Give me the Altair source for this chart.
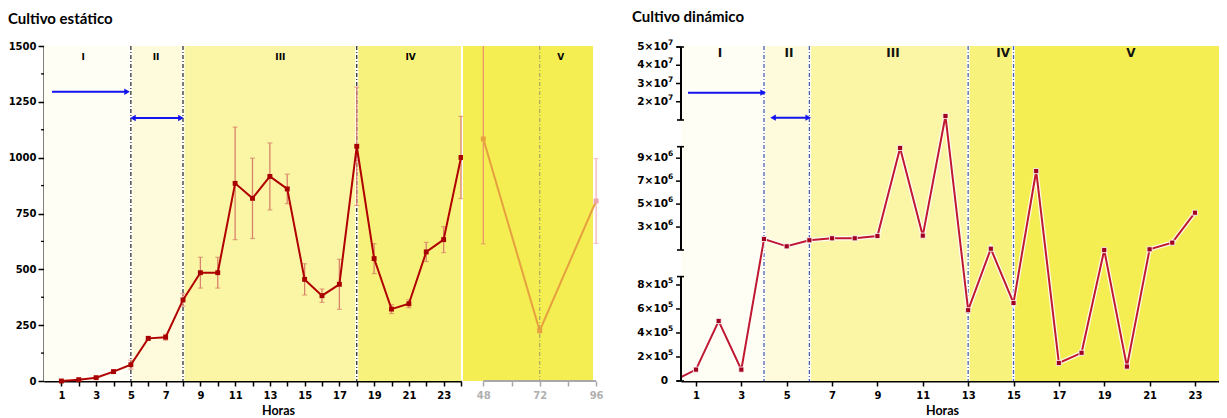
import altair as alt
import pandas as pd

# ---------------- data ----------------
static_hours = list(range(1, 25))
static_mean = [0, 6, 15, 42, 73, 191, 196, 363, 485, 485, 885, 818, 916, 860,
               455, 382, 433, 1051, 548, 322, 346, 578, 633, 1001]
static_err = [2, 3, 5, 8, 20, 8, 13, 28, 69, 69, 252, 180, 150, 66,
              70, 30, 112, 265, 67, 20, 18, 43, 58, 184]

late_hours = [48, 72, 96]
late_mean = [1084, 225, 806]
late_err = [470, 8, 190]

dyn_hours = list(range(0, 24))
dyn_values = [0, 9.5e4, 5.0e5, 9.5e4, 1.96e6, 1.32e6, 1.85e6, 2.02e6, 2.02e6, 2.22e6,
              9.89e6, 2.25e6, 1.22e7, 5.9e5, 1.11e6, 6.5e5, 7.88e6, 1.5e5, 2.35e5,
              1.0e6, 1.2e5, 1.06e6, 1.64e6, 4.25e6]

static_phases = ["I", "II", "III", "IV"]
static_phase_start = [0, 5, 8, 18]
static_phase_end = [5, 8, 18, 24]
static_label_hour = [2.25, 6.45, 13.6, 21.1]
static_label_level = 1450
static_dividers = [5, 8, 18]

late_phases = ["V"]
late_phase_start = [39.36]
late_phase_end = [94.7]
late_label_hour = [81]
late_dividers = [72]
late_axis_ticks = [48, 60, 72, 84, 96]

dyn_phases = ["I", "II", "III", "IV", "V"]
dyn_phase_start = [0.34, 4, 6, 13, 15]
dyn_phase_end = [4, 6, 13, 15, 24.06]
dyn_label_hour = [2.06, 5.1, 9.69, 14.54, 20.18]
dyn_label_level = 4.67e7
dyn_dividers = [4, 6, 13, 15]

static_y_ticks = [0, 250, 500, 750, 1000, 1250, 1500]
static_y_minor = [125, 375, 625, 875, 1125, 1375]

dyn_tick_values = [0, 2e5, 4e5, 6e5, 8e5, 3e6, 5e6, 7e6, 9e6, 2e7, 3e7, 4e7, 5e7]
dyn_tick_base = ["0", "2×10", "4×10", "6×10", "8×10",
                 "3×10", "5×10", "7×10", "9×10",
                 "2×10", "3×10", "4×10", "5×10"]
dyn_tick_exp = ["", "5", "5", "5", "5", "6", "6", "6", "6", "7", "7", "7", "7"]
dyn_segment_lo = [0, 1e6, 1e7]
dyn_segment_hi = [8.7e5, 1e7, 5e7]

static_arrow_from = [0.46, 5.12]
static_arrow_to = [4.78, 7.88]
static_arrow_level = [1295, 1178]
static_arrow_double = [False, True]

dyn_arrow_from = [0.65, 4.4]
dyn_arrow_to = [3.96, 5.95]
dyn_arrow_level = [2.5e7, 1.13e7]
dyn_arrow_double = [False, True]

# ---------------- styling / geometry ----------------
H = 335
W_A, W_B, W_C = 417, 216, 538
PHASE_DOMAIN = ["I", "II", "III", "IV", "V"]
PHASE_RANGE = ["#FFFEF4", "#FDFBDC", "#FAF6A6", "#F7F27B", "#F4EE52"]
# broken axis: pixel span (from bottom) of each segment of the dynamic y axis
SEG_PIX = [(0, 104.4), (131, 234.3), (261, 334)]

BOLD = "DejaVu Sans"
TFONT = "Lato"


def seg_of(vf):
    return f"{vf} <= 9.3e5 ? 0 : ({vf} <= 1e7 ? 1 : 2)"


def disp(vf, sf):
    terms = []
    for lo, hi, (dl, dh) in zip(dyn_segment_lo, dyn_segment_hi, SEG_PIX):
        k = (dh - dl) / (hi - lo)
        terms.append(f"({dl} + ({vf} - {lo}) * {k!r})")
    return f"{sf} == 0 ? {terms[0]} : ({sf} == 1 ? {terms[1]} : {terms[2]})"


phase_color = alt.Color("phase:N", scale=alt.Scale(domain=PHASE_DOMAIN, range=PHASE_RANGE), legend=None)


def arrow_layers(xf, yenc_fn, frm, to, lvl, dbl, calc=None):
    adf = pd.DataFrame({"a": frm, "b": to, "v": lvl})
    heads = []
    for f, t, v, d in zip(frm, to, lvl, dbl):
        heads.append({"h": t, "v": v, "dir": "r"})
        if d:
            heads.append({"h": f, "v": v, "dir": "l"})
    hdf = pd.DataFrame(heads)
    c1 = alt.Chart(adf)
    c2 = alt.Chart(hdf)
    if calc is not None:
        c1 = calc(c1)
        c2 = calc(c2)
    shaft = c1.mark_rule(color="#1414F0", strokeWidth=2).encode(
        x=xf("a"), x2="b:Q", y=yenc_fn())
    head = c2.mark_point(filled=True, size=42, opacity=1, color="#1414F0").encode(
        x=xf("h"), y=yenc_fn(),
        shape=alt.Shape("dir:N", scale=alt.Scale(domain=["r", "l"], range=["triangle-right", "triangle-left"]), legend=None))
    return [shaft, head]


# ================= Panel A : static, hours 1-24 =================
xA_scale = alt.Scale(domain=[0, 24], nice=False, zero=False)
xA_axis = alt.Axis(values=static_hours, labelExpr="datum.value % 2 == 1 ? datum.label : ''",
                   tickSize=5, labelPadding=4, title="Horas", titleX=234, titleY=33,
                   titleBaseline="alphabetic", titleAlign="center")
yA_scale = alt.Scale(domain=[0, 1500], nice=False, zero=False)
yA_axis = alt.Axis(values=static_y_ticks, format="d", tickSize=6, labelPadding=2, title=None)


def xA(f):
    return alt.X(f"{f}:Q", scale=xA_scale, axis=xA_axis)


def yA(f="v"):
    return alt.Y(f"{f}:Q", scale=yA_scale, axis=yA_axis)


sdf = pd.DataFrame({"h": static_hours, "v": static_mean, "e": static_err})
sph = pd.DataFrame({"phase": static_phases, "a": static_phase_start, "b": static_phase_end,
                    "lh": static_label_hour})
sph["lv"] = static_label_level
sdiv = pd.DataFrame({"h": static_dividers})
sminor = pd.DataFrame({"v": static_y_minor})

A_layers = [
    alt.Chart(sph).mark_rect().encode(x=xA("a"), x2="b:Q", y=alt.value(0), y2=alt.value(H), color=phase_color),
    alt.Chart(sdiv).mark_rule(color="white", strokeWidth=3).encode(x=xA("h"), y=alt.value(0), y2=alt.value(H)),
    alt.Chart(sdiv).mark_rule(color="#222222", strokeWidth=1.2, strokeDash=[4, 2, 1, 2]).encode(
        x=xA("h"), y=alt.value(0), y2=alt.value(H)),
]
A_layers += arrow_layers(xA, yA, static_arrow_from, static_arrow_to, static_arrow_level, static_arrow_double)
base_s = alt.Chart(sdf).transform_calculate(lo="datum.v - datum.e", hi="datum.v + datum.e")
A_layers += [
    base_s.mark_rule(color="#D9826A", strokeWidth=1.3).encode(x=xA("h"), y=yA("lo"), y2="hi:Q"),
    base_s.mark_tick(orient="horizontal", size=5, thickness=1.2, color="#D9826A").encode(x=xA("h"), y=yA("lo")),
    base_s.mark_tick(orient="horizontal", size=5, thickness=1.2, color="#D9826A").encode(x=xA("h"), y=yA("hi")),
    alt.Chart(sdf).mark_line(color="#B00000", strokeWidth=2).encode(x=xA("h"), y=yA()),
    alt.Chart(sdf).mark_square(color="#A80000", size=24, opacity=1).encode(x=xA("h"), y=yA()),
    alt.Chart(sph).mark_text(font=BOLD, fontWeight="bold", fontSize=9, color="black").encode(
        x=xA("lh"), y=yA("lv"), text="phase:N"),
    alt.Chart(sminor).mark_rule(color="black", strokeWidth=1.3).encode(
        x=alt.value(-3), x2=alt.value(0), y=yA()),
]
panelA = alt.layer(*A_layers).properties(
    width=W_A, height=H,
    title=alt.TitleParams("Cultivo estático", anchor="start", frame="group", dx=-36, offset=2,
                          baseline="alphabetic", font=TFONT, fontWeight="bold", fontSize=15, color="black"))

# ================= Panel B : static, 48-96 h =================
xB_scale = alt.Scale(domain=[39.36, 131.28], nice=False, zero=False)
xB_axis = alt.Axis(values=late_axis_ticks, labelExpr="datum.value % 24 == 0 ? datum.label : ''",
                   domain=False, tickColor="#A8A8A8", labelColor="#B0B0B0", tickSize=5,
                   labelPadding=4, title=None)


def xB(f):
    return alt.X(f"{f}:Q", scale=xB_scale, axis=xB_axis)


def yB(f="v"):
    return alt.Y(f"{f}:Q", scale=yA_scale, axis=None)


ldf = pd.DataFrame({"h": late_hours, "v": late_mean, "e": late_err})
lph = pd.DataFrame({"phase": late_phases, "a": late_phase_start, "b": late_phase_end, "lh": late_label_hour})
lph["lv"] = static_label_level
ldiv = pd.DataFrame({"h": late_dividers})
ldom = pd.DataFrame({"a": [late_hours[0]], "b": [late_hours[-1]]})
late_col = alt.condition("datum.h == 96", alt.value("#EEA6AC"), alt.value("#E6A040"))
late_err_col = alt.condition("datum.h == 96", alt.value("#F0B4BA"), alt.value("#E8956A"))
base_l = alt.Chart(ldf).transform_calculate(lo="datum.v - datum.e", hi="datum.v + datum.e")

B_layers = [
    alt.Chart(lph).mark_rect().encode(x=xB("a"), x2="b:Q", y=alt.value(0), y2=alt.value(H), color=phase_color),
    alt.Chart(ldiv).mark_rule(color="#A0A060", strokeWidth=1.1, strokeDash=[4, 2, 1, 2]).encode(
        x=xB("h"), y=alt.value(0), y2=alt.value(H)),
    base_l.mark_rule(strokeWidth=1.3, clip=True).encode(x=xB("h"), y=yB("lo"), y2="hi:Q", color=late_err_col),
    base_l.mark_tick(orient="horizontal", size=5, thickness=1.2, clip=True).encode(
        x=xB("h"), y=yB("lo"), color=late_err_col),
    base_l.mark_tick(orient="horizontal", size=5, thickness=1.2, clip=True).encode(
        x=xB("h"), y=yB("hi"), color=late_err_col),
    alt.Chart(ldf).mark_line(color="#E6A040", strokeWidth=2).encode(x=xB("h"), y=yB()),
    alt.Chart(ldf).mark_square(size=24, opacity=1).encode(x=xB("h"), y=yB(), color=late_col),
    alt.Chart(lph).mark_text(font=BOLD, fontWeight="bold", fontSize=9, color="black").encode(
        x=xB("lh"), y=yB("lv"), text="phase:N"),
    alt.Chart(ldom).mark_rule(color="#A8A8A8", strokeWidth=2).encode(x=xB("a"), x2="b:Q", y=alt.value(H)),
]
panelB = alt.layer(*B_layers).properties(width=W_B, height=H)

# ================= Panel C : dynamic, broken y axis =================
xC_scale = alt.Scale(domain=[0.34, 24.06], nice=False, zero=False)
xC_axis = alt.Axis(values=list(range(1, 24, 2)), tickSize=5, labelPadding=4, title="Horas",
                   titleX=261, titleY=33, titleBaseline="alphabetic", titleAlign="center")
yC_scale = alt.Scale(domain=[0, H], nice=False, zero=False)


def xC(f):
    return alt.X(f"{f}:Q", scale=xC_scale, axis=xC_axis)


def yC(f="d"):
    return alt.Y(f"{f}:Q", scale=yC_scale, axis=None)


def calc_d(ch, vf="datum.v", out="d"):
    return ch.transform_calculate(s=seg_of(vf)).transform_calculate(**{out: disp(vf, "datum.s")})


ddf = pd.DataFrame({"h": dyn_hours, "v": dyn_values})
dph = pd.DataFrame({"phase": dyn_phases, "a": dyn_phase_start, "b": dyn_phase_end, "h": dyn_label_hour})
dph["v"] = dyn_label_level
ddiv = pd.DataFrame({"h": dyn_dividers})
dticks = pd.DataFrame({"v": dyn_tick_values, "base": dyn_tick_base, "exp": dyn_tick_exp})
dseg = pd.DataFrame({"s": [0, 1, 2], "lo": dyn_segment_lo, "hi": dyn_segment_hi})
dcaps = pd.DataFrame({"s": [0, 0, 1, 1, 2, 2],
                      "v": [dyn_segment_lo[0], dyn_segment_hi[0], dyn_segment_lo[1],
                            dyn_segment_hi[1], dyn_segment_lo[2], dyn_segment_hi[2]]})

C_layers = [
    alt.Chart(dph).mark_rect().encode(x=xC("a"), x2="b:Q", y=alt.value(0), y2=alt.value(H), color=phase_color),
    alt.Chart(ddiv).mark_rule(color="white", strokeWidth=3).encode(x=xC("h"), y=alt.value(0), y2=alt.value(H)),
    alt.Chart(ddiv).mark_rule(color="#4A62B0", strokeWidth=1.3, strokeDash=[4, 2, 1, 2]).encode(
        x=xC("h"), y=alt.value(0), y2=alt.value(H)),
]
C_layers += arrow_layers(xC, yC, dyn_arrow_from, dyn_arrow_to, dyn_arrow_level, dyn_arrow_double,
                         calc=lambda c: calc_d(c))
C_layers += [
    calc_d(alt.Chart(ddf)).mark_line(color="white", strokeWidth=4.5, opacity=0.85, clip=True).encode(
        x=xC("h"), y=yC()),
    calc_d(alt.Chart(ddf)).mark_line(color="#C0182E", strokeWidth=2, clip=True).encode(x=xC("h"), y=yC()),
    calc_d(alt.Chart(ddf)).transform_filter("datum.h >= 1").mark_square(
        color="#A0001E", size=26, opacity=1, stroke="white", strokeWidth=0.8).encode(x=xC("h"), y=yC()),
    calc_d(alt.Chart(dph)).mark_text(font=BOLD, fontWeight="bold", fontSize=12, color="#111111").encode(
        x=xC("h"), y=yC(), text="phase:N"),
    # broken y axis drawn from the scale mapping
    alt.Chart(dseg).transform_calculate(d1=disp("datum.lo", "datum.s"), d2=disp("datum.hi", "datum.s"))
    .mark_rule(color="black", strokeWidth=2).encode(x=alt.value(0), y=yC("d1"), y2="d2:Q"),
    alt.Chart(dcaps).transform_calculate(d=disp("datum.v", "datum.s"))
    .mark_rule(color="black", strokeWidth=1.6).encode(x=alt.value(-4), x2=alt.value(3), y=yC()),
    calc_d(alt.Chart(dticks)).mark_rule(color="black", strokeWidth=1.5).encode(
        x=alt.value(-5), x2=alt.value(0), y=yC()),
    calc_d(alt.Chart(dticks)).mark_text(align="right", baseline="middle", dx=-13, font=BOLD,
                                        fontWeight="bold", fontSize=10.5, color="black").encode(
        x=alt.value(0), y=yC(), text="base:N"),
    calc_d(alt.Chart(dticks)).mark_text(align="left", baseline="middle", dx=-13, dy=-4, font=BOLD,
                                        fontWeight="bold", fontSize=7.5, color="black").encode(
        x=alt.value(0), y=yC(), text="exp:N"),
]
panelC = alt.layer(*C_layers).properties(
    width=W_C, height=H,
    title=alt.TitleParams("Cultivo dinámico", anchor="start", frame="group", dx=-49, offset=2,
                          baseline="alphabetic", font=TFONT, fontWeight="bold", fontSize=15, color="black"))

chart = alt.hconcat(panelA, panelB, panelC, spacing=2, bounds="flush").resolve_scale(
    x="independent", y="independent", color="independent"
).properties(
    padding={"left": 0, "top": 2, "right": 0, "bottom": 0}, background="white"
).configure_view(stroke=None).configure_axis(
    grid=False, labelFont=BOLD, labelFontWeight="bold", labelFontSize=10, labelColor="black",
    domainColor="black", domainWidth=2, tickColor="black", tickWidth=1.5,
    titleFont=TFONT, titleFontWeight="bold", titleFontSize=12.5, titleColor="black")

chart.save("out.html", embed_options={"renderer": "svg", "actions": False})
